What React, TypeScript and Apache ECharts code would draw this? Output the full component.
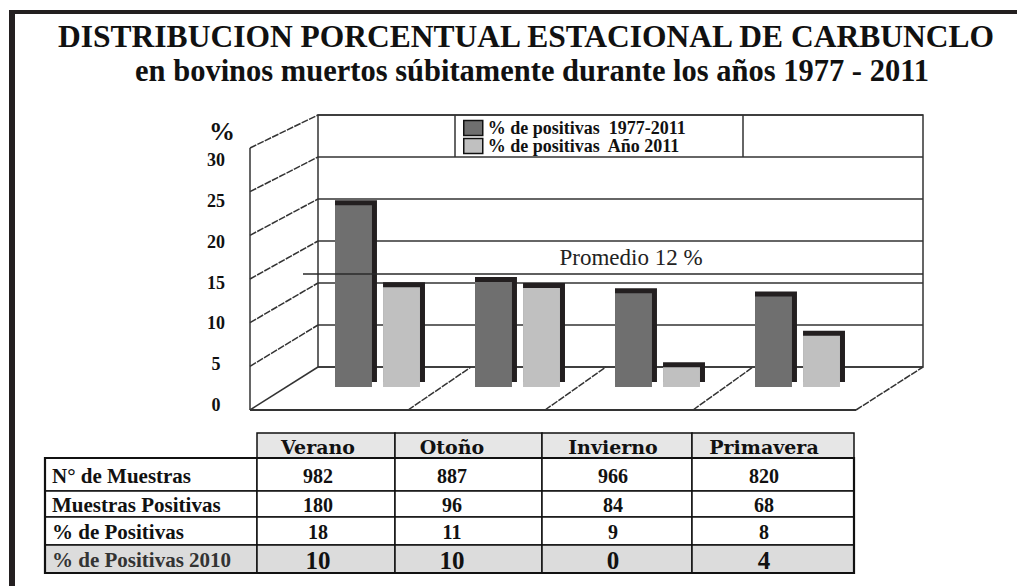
import React, { useEffect, useRef } from "react";
import * as echarts from "echarts";

// ---------- data ----------
const seasons = ["Verano", "Otoño", "Invierno", "Primavera"];
const pctPositivas19772011 = [21.3, 12.3, 11.0, 10.6];
const pctPositivasAnio2011 = [11.7, 11.6, 2.3, 6.0];
const legendNames = ["% de positivas  1977-2011", "% de positivas  Año 2011"];
const promedioLabel = "Promedio 12 %";

const rowLabels = ["N° de Muestras", "Muestras Positivas", "% de Positivas", "% de Positivas 2010"];
const nMuestras = [982, 887, 966, 820];
const muestrasPositivas = [180, 96, 84, 68];
const pctPositivas = [18, 11, 9, 8];
const pctPositivas2010 = [10, 10, 0, 4];

const title1 = "DISTRIBUCION PORCENTUAL ESTACIONAL DE CARBUNCLO";
const title2 = "en bovinos muertos súbitamente durante los años 1977 - 2011";

// ---------- style / layout ----------
const SERIF = "Liberation Serif";
const WIDE_SERIF = "DejaVu Serif";
const INK = "#231f20";
const LINE = "#333333";
const DARK = "#6f6f6f";
const LIGHT = "#c0c0c0";

const BACK = { l: 318, r: 923, t: 115, b: 367 };
const FRONT = { l: 250, r: 856, t: 148, b: 410 };
const floorFront = [250, 408, 545, 693, 856];
const floorBack = [318, 471, 606, 753, 923];

const colX = [257, 395, 542, 692, 854];
const colText = [318, 452, 613, 764];
const tableLeft = 45;
const rowY = [433, 458, 491, 517, 545, 573];

function makeBar(side: number, color: string) {
  return (params: any, api: any) => {
    const idx = api.value(0);
    const v = api.value(1);
    const top = api.coord([idx, v]);
    const bot = api.coord([idx, 0]);
    const band = api.size([1, 0])[0];
    const w = band * 0.264;
    const gap = band * 0.079;
    const cx = top[0] + (side * (w + gap)) / 2;
    const x0 = cx - w / 2;
    const h = bot[1] - top[1];
    const d = 5;
    return {
      type: "group",
      children: [
        { type: "rect", shape: { x: x0, y: top[1] - d, width: w + d, height: h }, style: { fill: INK } },
        { type: "rect", shape: { x: x0, y: top[1], width: w, height: h }, style: { fill: color } },
      ],
    };
  };
}

function txt(x: number, y: number, text: string, size: number, opts: any = {}) {
  return {
    type: "text",
    x,
    y,
    z: opts.z ?? 10,
    style: {
      text,
      fontFamily: opts.family ?? SERIF,
      fontSize: size,
      fontWeight: opts.weight ?? "bold",
      fill: opts.fill ?? "#111",
      align: opts.align ?? "center",
      verticalAlign: "middle",
    },
  };
}

function ln(x1: number, y1: number, x2: number, y2: number, opts: any = {}) {
  return {
    type: "line",
    z: opts.z ?? 1,
    shape: { x1, y1, x2, y2 },
    style: { stroke: opts.stroke ?? LINE, lineWidth: opts.w ?? 1.5, lineDash: opts.dash },
  };
}

export default function App() {
  const ref = useRef<HTMLDivElement>(null);
  useEffect(() => {
    if (!ref.current) return;
    const chart = echarts.init(ref.current, null, { renderer: "svg" });

    const g: any[] = [];
    // frame
    g.push({ type: "rect", shape: { x: 9, y: 10, width: 1010, height: 4 }, style: { fill: INK } });
    g.push({ type: "rect", shape: { x: 9, y: 10, width: 6, height: 580 }, style: { fill: INK } });
    // titles
    g.push(txt(526, 36, title1, 31.5));
    g.push(txt(532, 70.5, title2, 30.5));
    g.push(txt(222, 131, "%", 26));

    // left wall
    g.push(ln(FRONT.l, FRONT.t, FRONT.l, FRONT.b));
    for (let i = 0; i <= 6; i++) {
      const fy = FRONT.b - ((FRONT.b - FRONT.t) * i) / 6;
      const by = BACK.b - ((BACK.b - BACK.t) * i) / 6;
      g.push(ln(FRONT.l, fy, BACK.l, by, { dash: i === 0 ? undefined : [7, 1.2] }));
    }
    // floor
    g.push(ln(FRONT.l, FRONT.b, FRONT.r, FRONT.b, { w: 2 }));
    for (let i = 1; i < floorFront.length; i++) {
      g.push(ln(floorFront[i], FRONT.b, floorBack[i], BACK.b, { dash: [7, 1.2] }));
    }
    // legend box dividers
    g.push(ln(455, BACK.t, 455, BACK.t + 42));
    g.push(ln(743, BACK.t, 743, BACK.t + 42));
    // promedio
    g.push(ln(303, 274, BACK.r, 274, { z: 50, stroke: "#2a2a2a", w: 1.5 }));
    g.push(txt(631, 257, promedioLabel, 23, { weight: "normal", fill: "#222" }));

    // table
    const cellStroke = { stroke: "#111", lineWidth: 1.5 };
    for (let c = 0; c < 4; c++) {
      g.push({
        type: "rect",
        z: 5,
        shape: { x: colX[c], y: rowY[0], width: colX[c + 1] - colX[c], height: rowY[1] - rowY[0] },
        style: { fill: "#e6e6e6", ...cellStroke },
      });
      g.push(txt(colText[c], (rowY[0] + rowY[1]) / 2 + 1, seasons[c], 19, { family: WIDE_SERIF }));
    }
    const rowsVals = [nMuestras, muestrasPositivas, pctPositivas, pctPositivas2010];
    for (let r = 0; r < 4; r++) {
      const y0 = rowY[r + 1];
      const y1 = rowY[r + 2];
      const fill = r === 3 ? "#dcdcdc" : "#ffffff";
      const xs = [tableLeft, ...colX];
      for (let c = 0; c < 5; c++) {
        g.push({
          type: "rect",
          z: 5,
          shape: { x: xs[c], y: y0, width: xs[c + 1] - xs[c], height: y1 - y0 },
          style: { fill, ...cellStroke },
        });
      }
      g.push(txt(tableLeft + 7, (y0 + y1) / 2 + 1, rowLabels[r], 21, { align: "left", fill: r === 3 ? "#333" : "#111" }));
      for (let c = 0; c < 4; c++) {
        g.push(txt(colText[c], (y0 + y1) / 2 + 1, String(rowsVals[r][c]), r === 3 ? 25 : 20));
      }
    }
    g.push({
      type: "rect",
      z: 6,
      shape: { x: tableLeft, y: rowY[1], width: colX[4] - tableLeft, height: rowY[5] - rowY[1] },
      style: { fill: "none", stroke: "#111", lineWidth: 2.2 },
    });

    chart.setOption({
      animation: false,
      backgroundColor: "#ffffff",
      grid: [
        { left: 307.5, right: 149.5, top: 131, bottom: 199, show: false },
        {
          left: BACK.l,
          right: 1017 - BACK.r,
          top: BACK.t,
          bottom: 586 - BACK.b,
          show: true,
          borderColor: LINE,
          borderWidth: 1.5,
          backgroundColor: "transparent",
        },
        { left: 240, width: 8, top: 160, bottom: 181, show: false },
      ],
      xAxis: [
        { gridIndex: 0, type: "category", data: seasons, show: false },
        { gridIndex: 1, type: "category", data: seasons, show: false },
        { gridIndex: 2, type: "category", data: seasons, show: false },
      ],
      yAxis: [
        { gridIndex: 0, type: "value", min: 0, max: 30, interval: 5, show: false },
        {
          gridIndex: 1,
          type: "value",
          min: 0,
          max: 30,
          interval: 5,
          axisLine: { show: false },
          axisTick: { show: false },
          axisLabel: { show: false },
          splitLine: { show: true, lineStyle: { color: LINE, width: 1.5 } },
        },
        {
          gridIndex: 2,
          type: "value",
          min: 0,
          max: 30,
          interval: 5,
          axisLine: { show: false },
          axisTick: { show: false },
          splitLine: { show: false },
          axisLabel: {
            align: "center",
            margin: 24,
            fontFamily: SERIF,
            fontWeight: "bold",
            fontSize: 18,
            color: "#111",
          },
        },
      ],
      legend: {
        orient: "vertical",
        left: 463,
        top: 119,
        padding: 0,
        itemGap: 0,
        itemWidth: 19,
        itemHeight: 15,
        selectedMode: false,
        textStyle: { fontFamily: SERIF, fontWeight: "bold", fontSize: 18, lineHeight: 15, color: "#111", padding: [0, 0, 0, 0] },
        data: [
          { name: legendNames[0], icon: "rect", itemStyle: { color: DARK, borderColor: "#111", borderWidth: 1.5 } },
          { name: legendNames[1], icon: "rect", itemStyle: { color: LIGHT, borderColor: "#111", borderWidth: 1.5 } },
        ],
      },
      graphic: g,
      series: [
        {
          type: "custom",
          name: legendNames[0],
          xAxisIndex: 0,
          yAxisIndex: 0,
          z: 10,
          itemStyle: { color: DARK },
          renderItem: makeBar(-1, DARK),
          data: pctPositivas19772011.map((v, i) => [i, v]),
        },
        {
          type: "custom",
          name: legendNames[1],
          xAxisIndex: 0,
          yAxisIndex: 0,
          z: 10,
          itemStyle: { color: LIGHT },
          renderItem: makeBar(1, LIGHT),
          data: pctPositivasAnio2011.map((v, i) => [i, v]),
        },
      ],
    });
    return () => chart.dispose();
  }, []);
  return <div ref={ref} style={{ position: "absolute", left: 0, top: 0, width: 1017, height: 586 }} />;
}
